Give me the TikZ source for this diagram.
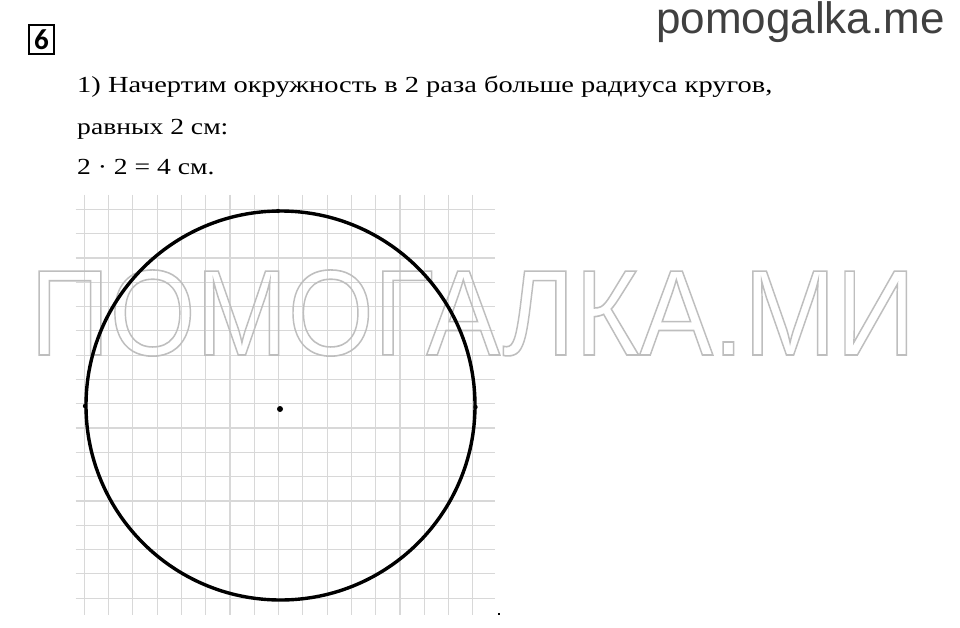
\documentclass[tikz,border=0pt]{standalone}
\usepackage{fontspec}
\setmainfont{Liberation Serif}
\newfontfamily\wmfont{Liberation Sans}
\newfontfamily\sitefont{Liberation Sans}
\newfontfamily\numfont{Carlito}
\newfontfamily\bodyfont{Liberation Serif}
\definecolor{gridgray}{HTML}{D8D8D8}
\definecolor{wmgray}{HTML}{BEBEBE}
\definecolor{sitegray}{HTML}{404040}
\tikzset{
  gridline/.style={draw=gridgray, line width=1.2pt},
  bodytext/.style={anchor=base west, inner sep=0pt, font=\bodyfont\fontsize{23}{23}\selectfont},
  dotmark/.style={fill=black, draw=none},
}
\begin{document}
\begin{tikzpicture}[x=1pt,y=-1pt]
\useasboundingbox[fill=white] (0,0) rectangle (960,628);
% grid
\foreach \i in {0,...,16} {
  \draw[gridline] ({84.3+24.28*\i},195) -- ({84.3+24.28*\i},615);
  \draw[gridline] (75.7,{209.3+24.3*\i}) -- (495,{209.3+24.3*\i});
}
% watermark
\node[anchor=base west, inner sep=0pt, text=wmgray] (wm) at (30,355)
  {\resizebox{885pt}{85pt}{\special{pdf:literal direct 1 Tr 0.13 w}\wmfont ПОМОГАЛКА.МИ\special{pdf:literal direct 0 Tr}}};
% circle
\coordinate (c) at (280.5,405.5);
\draw[line width=3.4pt] (c) circle[radius=194.5];
\fill[dotmark] (280,409) circle[radius=3];
\fill[dotmark] (278,211) circle[radius=2.2];
\fill[dotmark] (85,406) circle[radius=2.2];
\fill[dotmark] (475.5,407) circle[radius=2.2];
\node[dotmark, minimum size=2.5pt, inner sep=0pt] (pt) at (499,614) {};
% header
\node[draw, line width=2pt, minimum width=25pt, minimum height=29pt, inner sep=0pt,
  font=\numfont\bfseries\fontsize{29}{29}\selectfont] (num) at (41.5,39.5) {6};
\node[anchor=base east, inner sep=0pt, text=sitegray,
  font=\sitefont\fontsize{44}{44}\selectfont] (site) at (945,33.5) {pomogalka.me};
\node[bodytext] (l1) at (77,92.7) {\scalebox{1.237}[1]{1) Начертим окружность в 2 раза больше радиуса кругов,}};
\node[bodytext] (l2) at (77,135) {\scalebox{1.2}[1]{равных 2 см:}};
\node[bodytext] (l3) at (77,175) {\scalebox{1.2}[1]{2 · 2 = 4 см.}};
\end{tikzpicture}
\end{document}
